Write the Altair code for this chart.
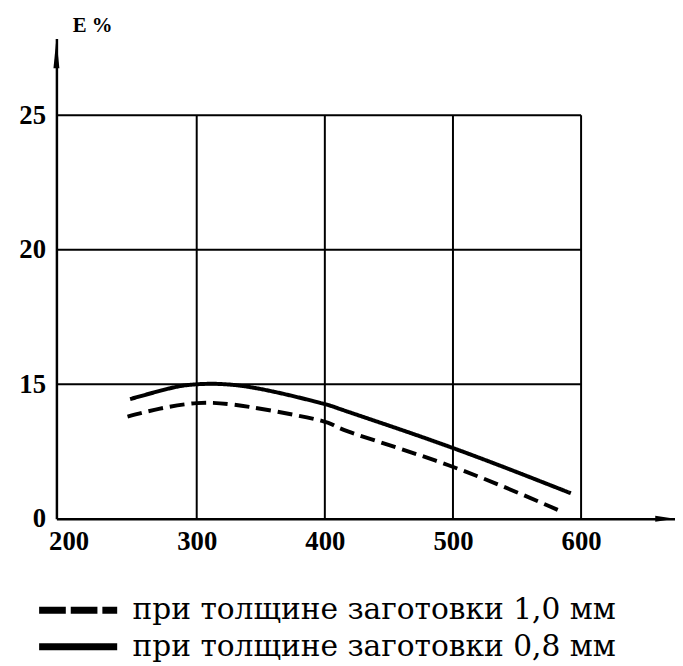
import altair as alt
import pandas as pd

# Data
solid_x = [248, 279, 300, 341, 397, 418, 496, 592]
solid_y = [14.45, 14.85, 15.0, 14.9, 14.3, 13.98, 12.7, 10.95]
dash_x = [246, 267, 300, 341, 397, 418, 496, 582]
dash_y = [13.8, 14.05, 14.3, 14.16, 13.65, 13.25, 12.0, 10.33]
series_names = ["при толщине заготовки 1,0 мм", "при толщине заготовки 0,8 мм"]

x_ticks = [200, 300, 400, 500, 600]
y_ticks = [10, 15, 20, 25]
v_grid = [300, 400, 500, 600]
h_grid = [15, 20, 25]

X_MIN, X_MAX = 190.5, 673.3
Y_MIN, Y_MAX = 10, 27.85

rows = []
for x, y in zip(dash_x, dash_y):
    rows.append({"x": x, "y": y, "s": series_names[0]})
for x, y in zip(solid_x, solid_y):
    rows.append({"x": x, "y": y, "s": series_names[1]})
df = pd.DataFrame(rows)

xs = alt.Scale(domain=[X_MIN, X_MAX], nice=False, zero=False)
ys = alt.Scale(domain=[Y_MIN, Y_MAX], nice=False, zero=False)

AXIS_FONT = "Liberation Serif"
LEGEND_FONT = "DejaVu Serif"

x_axis = alt.Axis(values=x_ticks, ticks=False, grid=False, title=None,
                  labelFont=AXIS_FONT, labelFontSize=27, labelPadding=10)
y_axis = alt.Axis(values=y_ticks, ticks=False, grid=False,
                  labelFont=AXIS_FONT, labelFontSize=27, labelPadding=11,
                  labelExpr="datum.value == 10 ? '0' : datum.label",
                  title="E %", titleFont=AXIS_FONT, titleAngle=0, titleAlign="left",
                  titleBaseline="alphabetic", titleX=16, titleY=-7, titleFontSize=21)

vg = alt.Chart(pd.DataFrame({"x": v_grid, "y": [Y_MIN] * len(v_grid), "y2": [25] * len(v_grid)})).mark_rule(
    color="black", strokeWidth=2).encode(
    x=alt.X("x:Q", scale=xs, axis=x_axis),
    y=alt.Y("y:Q", scale=ys, axis=y_axis),
    y2="y2:Q")

hg = alt.Chart(pd.DataFrame({"y": h_grid, "x": [X_MIN] * len(h_grid), "x2": [600] * len(h_grid)})).mark_rule(
    color="black", strokeWidth=2).encode(
    x=alt.X("x:Q", scale=xs),
    x2="x2:Q",
    y=alt.Y("y:Q", scale=ys))

lines = alt.Chart(df).mark_line(color="black", strokeWidth=4, interpolate="natural").encode(
    x=alt.X("x:Q", scale=xs),
    y=alt.Y("y:Q", scale=ys),
    strokeDash=alt.StrokeDash("s:N", scale=alt.Scale(domain=series_names, range=[[15, 7], [1, 0]]),
                              legend=None),
    detail="s:N")

# invisible copy that only carries the legend (longer dashes, as in the reference legend)
legend_layer = alt.Chart(df).mark_line(color="black", opacity=0).encode(
    x=alt.X("x:Q", scale=xs),
    y=alt.Y("y:Q", scale=ys),
    strokeDash=alt.StrokeDash("s:N", scale=alt.Scale(domain=series_names, range=[[27, 5], [1, 0]]),
                              sort=series_names,
                              legend=alt.Legend(title=None, orient="none", legendX=-21, legendY=560,
                                                symbolType="stroke", symbolSize=6241,
                                                symbolStrokeWidth=7, symbolStrokeColor="black",
                                                symbolOpacity=1, labelFont=LEGEND_FONT,
                                                labelFontSize=30, labelColor="black", labelLimit=700,
                                                clipHeight=37, rowPadding=0, labelOffset=12)),
    detail="s:N")

arrow_up = alt.Chart(pd.DataFrame({"x": [X_MIN], "y": [Y_MAX]})).mark_point(
    shape="M0,0L0.3,3L-0.3,3Z", size=400, filled=True, color="black", opacity=1).encode(
    x=alt.X("x:Q", scale=xs), y=alt.Y("y:Q", scale=ys))

arrow_right = alt.Chart(pd.DataFrame({"x": [X_MAX], "y": [Y_MIN]})).mark_point(
    shape="M0,0L-2,-0.3L-2,0.3Z", size=400, filled=True, color="black", opacity=1).encode(
    x=alt.X("x:Q", scale=xs), y=alt.Y("y:Q", scale=ys))

chart = alt.layer(vg, hg, lines, legend_layer, arrow_up, arrow_right).resolve_scale(
    strokeDash="independent"
).properties(
    width=626, height=486,
    autosize=alt.AutoSizeParams(type="none"),
    padding={"left": 49, "top": 27, "right": 0, "bottom": 145},
).configure(
    background="white"
).configure_view(
    stroke=None
).configure_axis(
    labelFont=AXIS_FONT, labelFontSize=27,
    labelFontWeight="bold", labelColor="black",
    titleFont=AXIS_FONT, titleFontSize=21,
    titleFontWeight="bold", titleColor="black",
    domainColor="black", domainWidth=2.5
)

chart.save("out.html", embed_options={"renderer": "svg", "actions": False})
